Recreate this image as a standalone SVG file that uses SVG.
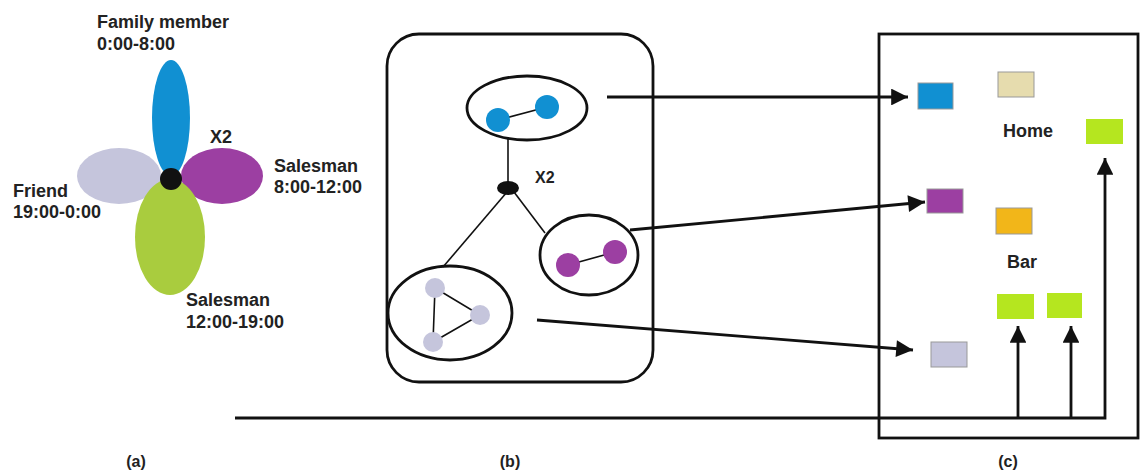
<svg xmlns="http://www.w3.org/2000/svg" width="1144" height="473" viewBox="0 0 1144 473">
<style>
text{font-family:"Liberation Sans",Arial,sans-serif;font-weight:bold;fill:#222}
.lbl{font-size:18px}
.sm{font-size:16px}
.cap{font-size:16px}
.ln{stroke:#111;stroke-width:1.6;fill:none}
.thick{stroke:#111;stroke-width:2.8;fill:none}
.box{stroke:#111;stroke-width:2.8;fill:none}
.blue{fill:#1190d2}
.lav{fill:#c5c5dc}
.pur{fill:#9c3fa2}
.grn{fill:#a9cc3e}
.lime{fill:#b5e61f}
.sq{stroke:#999;stroke-width:1}
</style>
<defs>
<marker id="ah" viewBox="0 0 10 10" refX="10" refY="5" markerWidth="8" markerHeight="6" markerUnits="strokeWidth" orient="auto">
<path d="M0,0 L10,5 L0,10 z" fill="#111"/>
</marker>
</defs>
<rect width="1144" height="473" fill="#fff"/>

<g id="part-a">
<ellipse cx="171" cy="118" rx="19" ry="58" class="blue"/>
<ellipse cx="119" cy="176" rx="42" ry="28" class="lav"/>
<ellipse cx="222" cy="176" rx="41" ry="28" class="pur"/>
<ellipse cx="170" cy="237" rx="35" ry="58" class="grn"/>
<circle cx="171" cy="179" r="11" fill="#111"/>
<text class="lbl" x="97" y="28">Family member</text>
<text class="lbl" x="97" y="50">0:00-8:00</text>
<text class="lbl" x="210" y="143">X2</text>
<text class="lbl" x="274" y="172">Salesman</text>
<text class="lbl" x="274" y="193">8:00-12:00</text>
<text class="lbl" x="13" y="197">Friend</text>
<text class="lbl" x="13" y="218">19:00-0:00</text>
<text class="lbl" x="186" y="306">Salesman</text>
<text class="lbl" x="186" y="328">12:00-19:00</text>
<text class="cap" x="136" y="467" text-anchor="middle">(a)</text>
</g>

<g id="part-b">
<rect x="387" y="34" width="266" height="348" rx="32" class="box"/>
<g id="cluster-blue">
<ellipse cx="527" cy="108" rx="60" ry="32" class="thick"/>
<line x1="498" y1="120" x2="547" y2="107" class="ln"/>
<circle cx="498" cy="120" r="12" class="blue"/>
<circle cx="547" cy="107" r="12" class="blue"/>
</g>
<g id="cluster-purple">
<ellipse cx="589" cy="255" rx="49" ry="40" class="thick"/>
<line x1="568" y1="265" x2="615" y2="252" class="ln"/>
<circle cx="568" cy="265" r="12" class="pur"/>
<circle cx="615" cy="252" r="12" class="pur"/>
</g>
<g id="cluster-lav">
<ellipse cx="450" cy="313" rx="62" ry="47" class="thick"/>
<path d="M435,288 L480,315 L433,342 Z" class="ln"/>
<circle cx="435" cy="288" r="10" class="lav"/>
<circle cx="480" cy="315" r="10" class="lav"/>
<circle cx="433" cy="342" r="10" class="lav"/>
</g>
<g id="hub">
<ellipse cx="508" cy="188" rx="11" ry="7" fill="#111"/>
<text class="sm" x="535" y="183">X2</text>
</g>
<text class="cap" x="510" y="467" text-anchor="middle">(b)</text>
</g>

<g id="part-c">
<rect x="879" y="34" width="259" height="404" class="box"/>
<rect x="918" y="83" width="35" height="26" class="blue sq"/>
<rect x="998" y="72" width="36" height="25" fill="#e6dcae" class="sq"/>
<rect x="1086" y="119" width="37" height="25" class="lime"/>
<text class="lbl" x="1003" y="137">Home</text>
<rect x="927" y="189" width="36" height="24" class="pur sq"/>
<rect x="996" y="208" width="36" height="26" fill="#f2b619" class="sq"/>
<text class="lbl" x="1007" y="268">Bar</text>
<rect x="997" y="294" width="37" height="25" class="lime"/>
<rect x="1047" y="293" width="35" height="25" class="lime"/>
<rect x="931" y="342" width="36" height="25" class="lav sq"/>
<text class="cap" x="1008" y="467" text-anchor="middle">(c)</text>
</g>

<g id="connectors">
<line x1="508" y1="138" x2="508" y2="188" class="ln"/>
<line x1="507" y1="192" x2="443" y2="267" class="ln"/>
<line x1="514" y1="192" x2="545" y2="233" class="ln"/>
<line x1="607" y1="97" x2="908" y2="97" class="thick" marker-end="url(#ah)"/>
<line x1="630" y1="230" x2="925" y2="202" class="thick" marker-end="url(#ah)"/>
<line x1="537" y1="320" x2="913" y2="350" class="thick" marker-end="url(#ah)"/>
<polyline points="235,418 1105,418 1105,158" class="thick" marker-end="url(#ah)"/>
<line x1="1018" y1="418" x2="1018" y2="326" class="thick" marker-end="url(#ah)"/>
<line x1="1071" y1="418" x2="1071" y2="326" class="thick" marker-end="url(#ah)"/>
</g>
</svg>
